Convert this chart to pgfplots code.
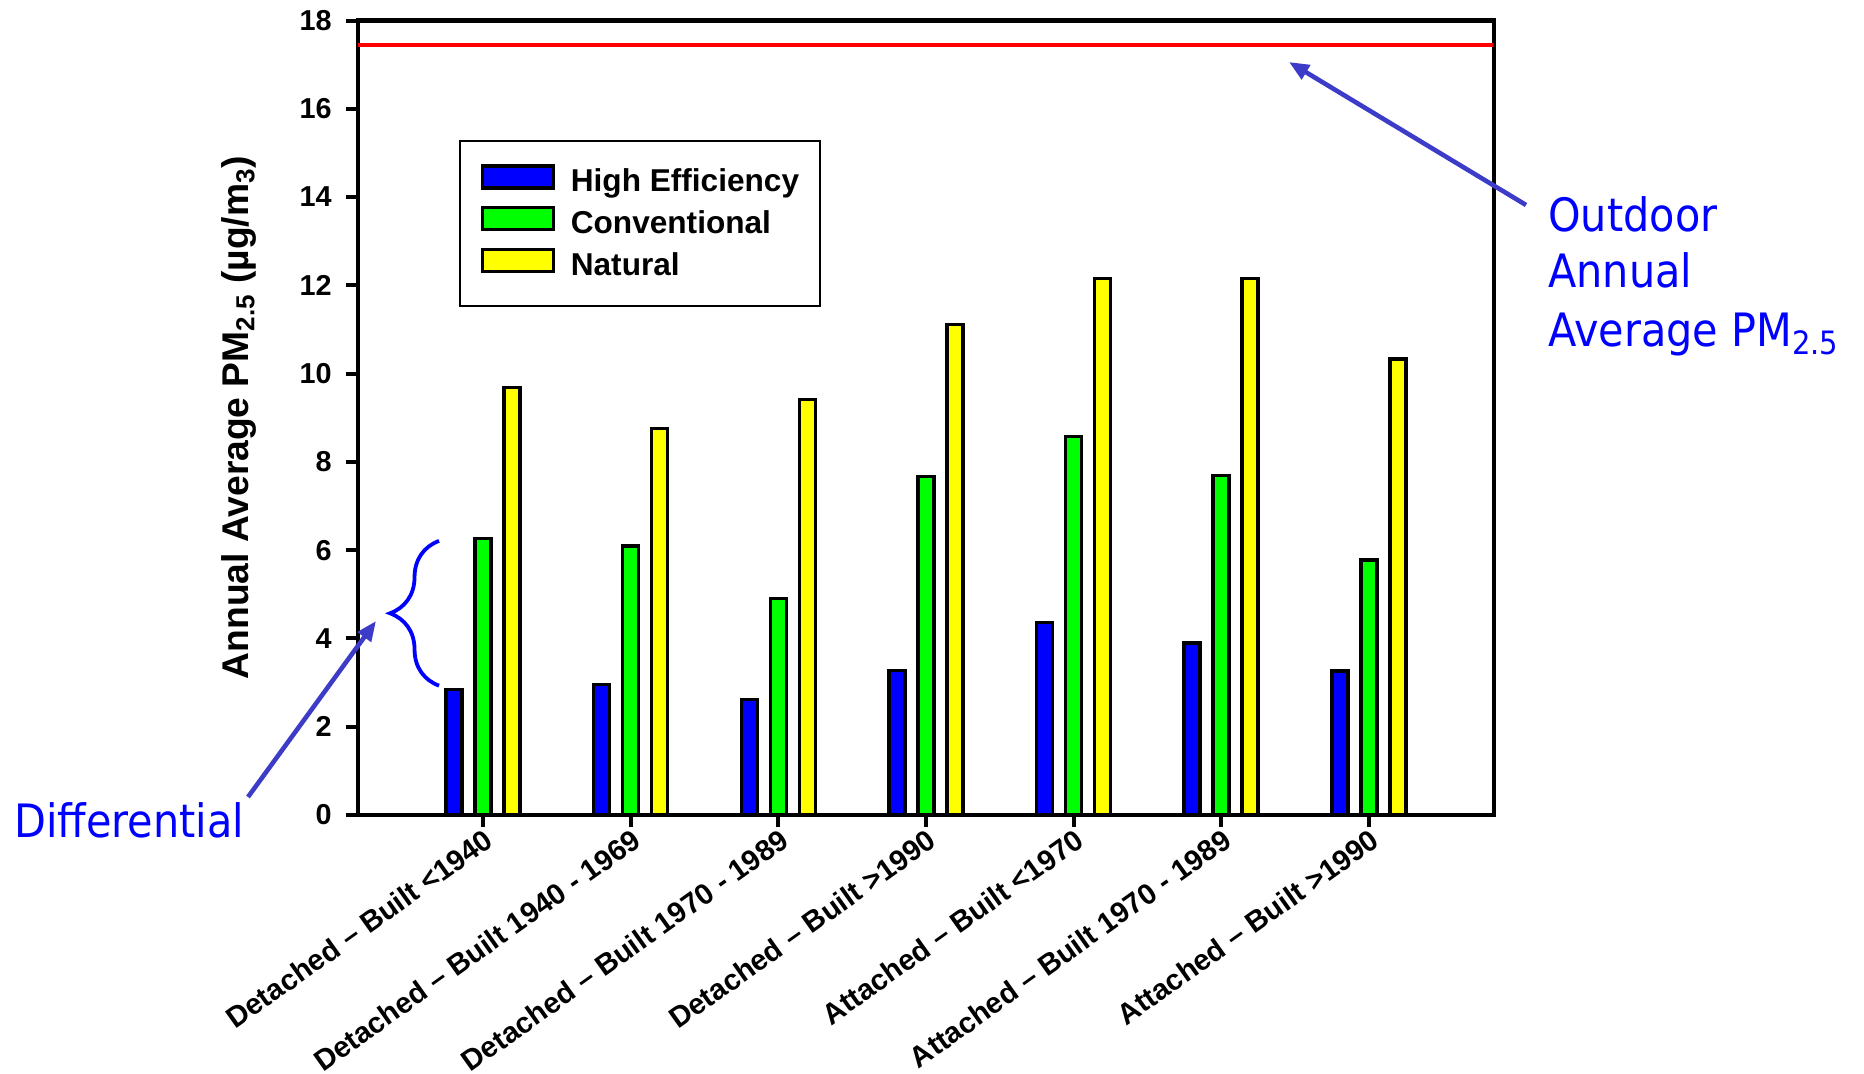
\documentclass[border=0pt]{standalone}
\usepackage{fontspec}
\setmainfont{Liberation Sans}
\newfontfamily\annfont[FakeStretch=0.9]{DejaVu Sans}
\usepackage{pgfplots}
\usepackage{pgfplotstable}
\pgfplotsset{compat=1.18}
\usetikzlibrary{arrows.meta,decorations.pathreplacing}

\definecolor{heBlue}{RGB}{0,0,255}
\definecolor{convGreen}{RGB}{0,255,0}
\definecolor{natYellow}{RGB}{255,255,0}
\definecolor{arrowBlue}{RGB}{60,60,200}

% Annual average indoor PM2.5 by filter type and housing category
\pgfplotstableread{
idx he   conv nat
0   2.85 6.26 9.69
1   2.95 6.09 8.76
2   2.62 4.91 9.41
3   3.28 7.67 11.11
4   4.36 8.58 12.16
5   3.90 7.69 12.16
6   3.26 5.78 10.33
}\pmdata

\pgfplotsset{
  swatch/.style={
    legend image code/.code={
      \draw[##1, line width=1.7pt] (0.85pt,0pt) rectangle (36.3pt,11pt);
    }
  },
  pmbar/.style={
    ybar, bar width=8pt, draw=black, line width=1.7pt, swatch
  }
}

\begin{document}
\begin{tikzpicture}[x=0.5pt,y=0.5pt]
\useasboundingbox (0,0) rectangle (1864,1073);
\begin{axis}[
  at={(179pt,129pt)}, anchor=south west,
  scale only axis, width=567.85pt, height=397.25pt,
  xmin=-0.847, xmax=6.846, ymin=0, ymax=18,
  axis line style={line width=2.1pt},
  tick align=outside,
  xtick pos=bottom, ytick pos=left,
  major tick length=6pt,
  every tick/.style={black, line width=2pt},
  xtick={0,...,6},
  xticklabels={
    Detached \textendash\ Built <1940,
    Detached \textendash\ Built 1940 - 1969,
    Detached \textendash\ Built 1970 - 1989,
    Detached \textendash\ Built >1990,
    Attached \textendash\ Built <1970,
    Attached \textendash\ Built 1970 - 1989,
    Attached \textendash\ Built >1990},
  ytick={0,2,...,18},
  /pgf/number format/assume math mode=true,
  yticklabel style={font=\bfseries\fontsize{14.4}{14.4}\selectfont, inner xsep=7pt},
  xticklabel style={font=\bfseries\fontsize{14.6}{14.6}\selectfont, rotate=35.5, anchor=north east, inner sep=0pt},
  legend cell align=left,
  legend style={
    at={(rel axis cs:0.0889,0.8496)}, anchor=north west,
    draw=black, line width=1pt,
    inner xsep=10.5pt, inner ysep=11.6pt,
    row sep=3.3pt, column sep=7.8pt,
    font=\bfseries\fontsize{15.8}{15.8}\selectfont,
    nodes={inner sep=0pt, text height=0.75em, text depth=0.4em}
  },
]
\addplot[pmbar, bar shift=-14.5pt, fill=heBlue]
  table[x=idx, y=he] {\pmdata};
\addlegendentry{High Efficiency}
\addplot[pmbar, bar shift=0pt, fill=convGreen]
  table[x=idx, y=conv] {\pmdata};
\addlegendentry{Conventional}
\addplot[pmbar, bar shift=14.5pt, fill=natYellow]
  table[x=idx, y=nat] {\pmdata};
\addlegendentry{Natural}

% outdoor annual average level
\addplot[sharp plot, forget plot, draw=red, line width=2pt]
  coordinates {(-0.847,17.44) (6.846,17.44)};

% brace marking the gap between filter types
\draw[heBlue, line width=1.9pt, decorate, decoration={brace, amplitude=24.5pt}]
  (axis cs:-0.298,2.93) -- (axis cs:-0.298,6.21);
\end{axis}

\node[rotate=90, anchor=base, inner sep=0pt,
      font=\bfseries\fontsize{18.6}{18.6}\selectfont]
  at (248,655.5) {Annual Average PM\textsubscript{2.5} (µg/m\textsubscript{3})};

% annotations
\draw[arrowBlue, line width=2.3pt, -{Triangle[length=10pt,width=8pt]}]
  (1526,868) -- (1289,1011);
\draw[arrowBlue, line width=2.3pt, -{Triangle[length=10pt,width=8pt]}]
  (248,276) -- (376,452);

\begin{scope}[every node/.style={anchor=base west, inner sep=0pt, text=heBlue,
      font=\annfont\fontsize{23}{23}\selectfont}]
  \node at (1548,841) {Outdoor};
  \node at (1548,785) {Annual};
  \node at (1548,726) {Average PM\textsubscript{2.5}};
  \node at (14,236) {Differential};
\end{scope}
\end{tikzpicture}
\end{document}
